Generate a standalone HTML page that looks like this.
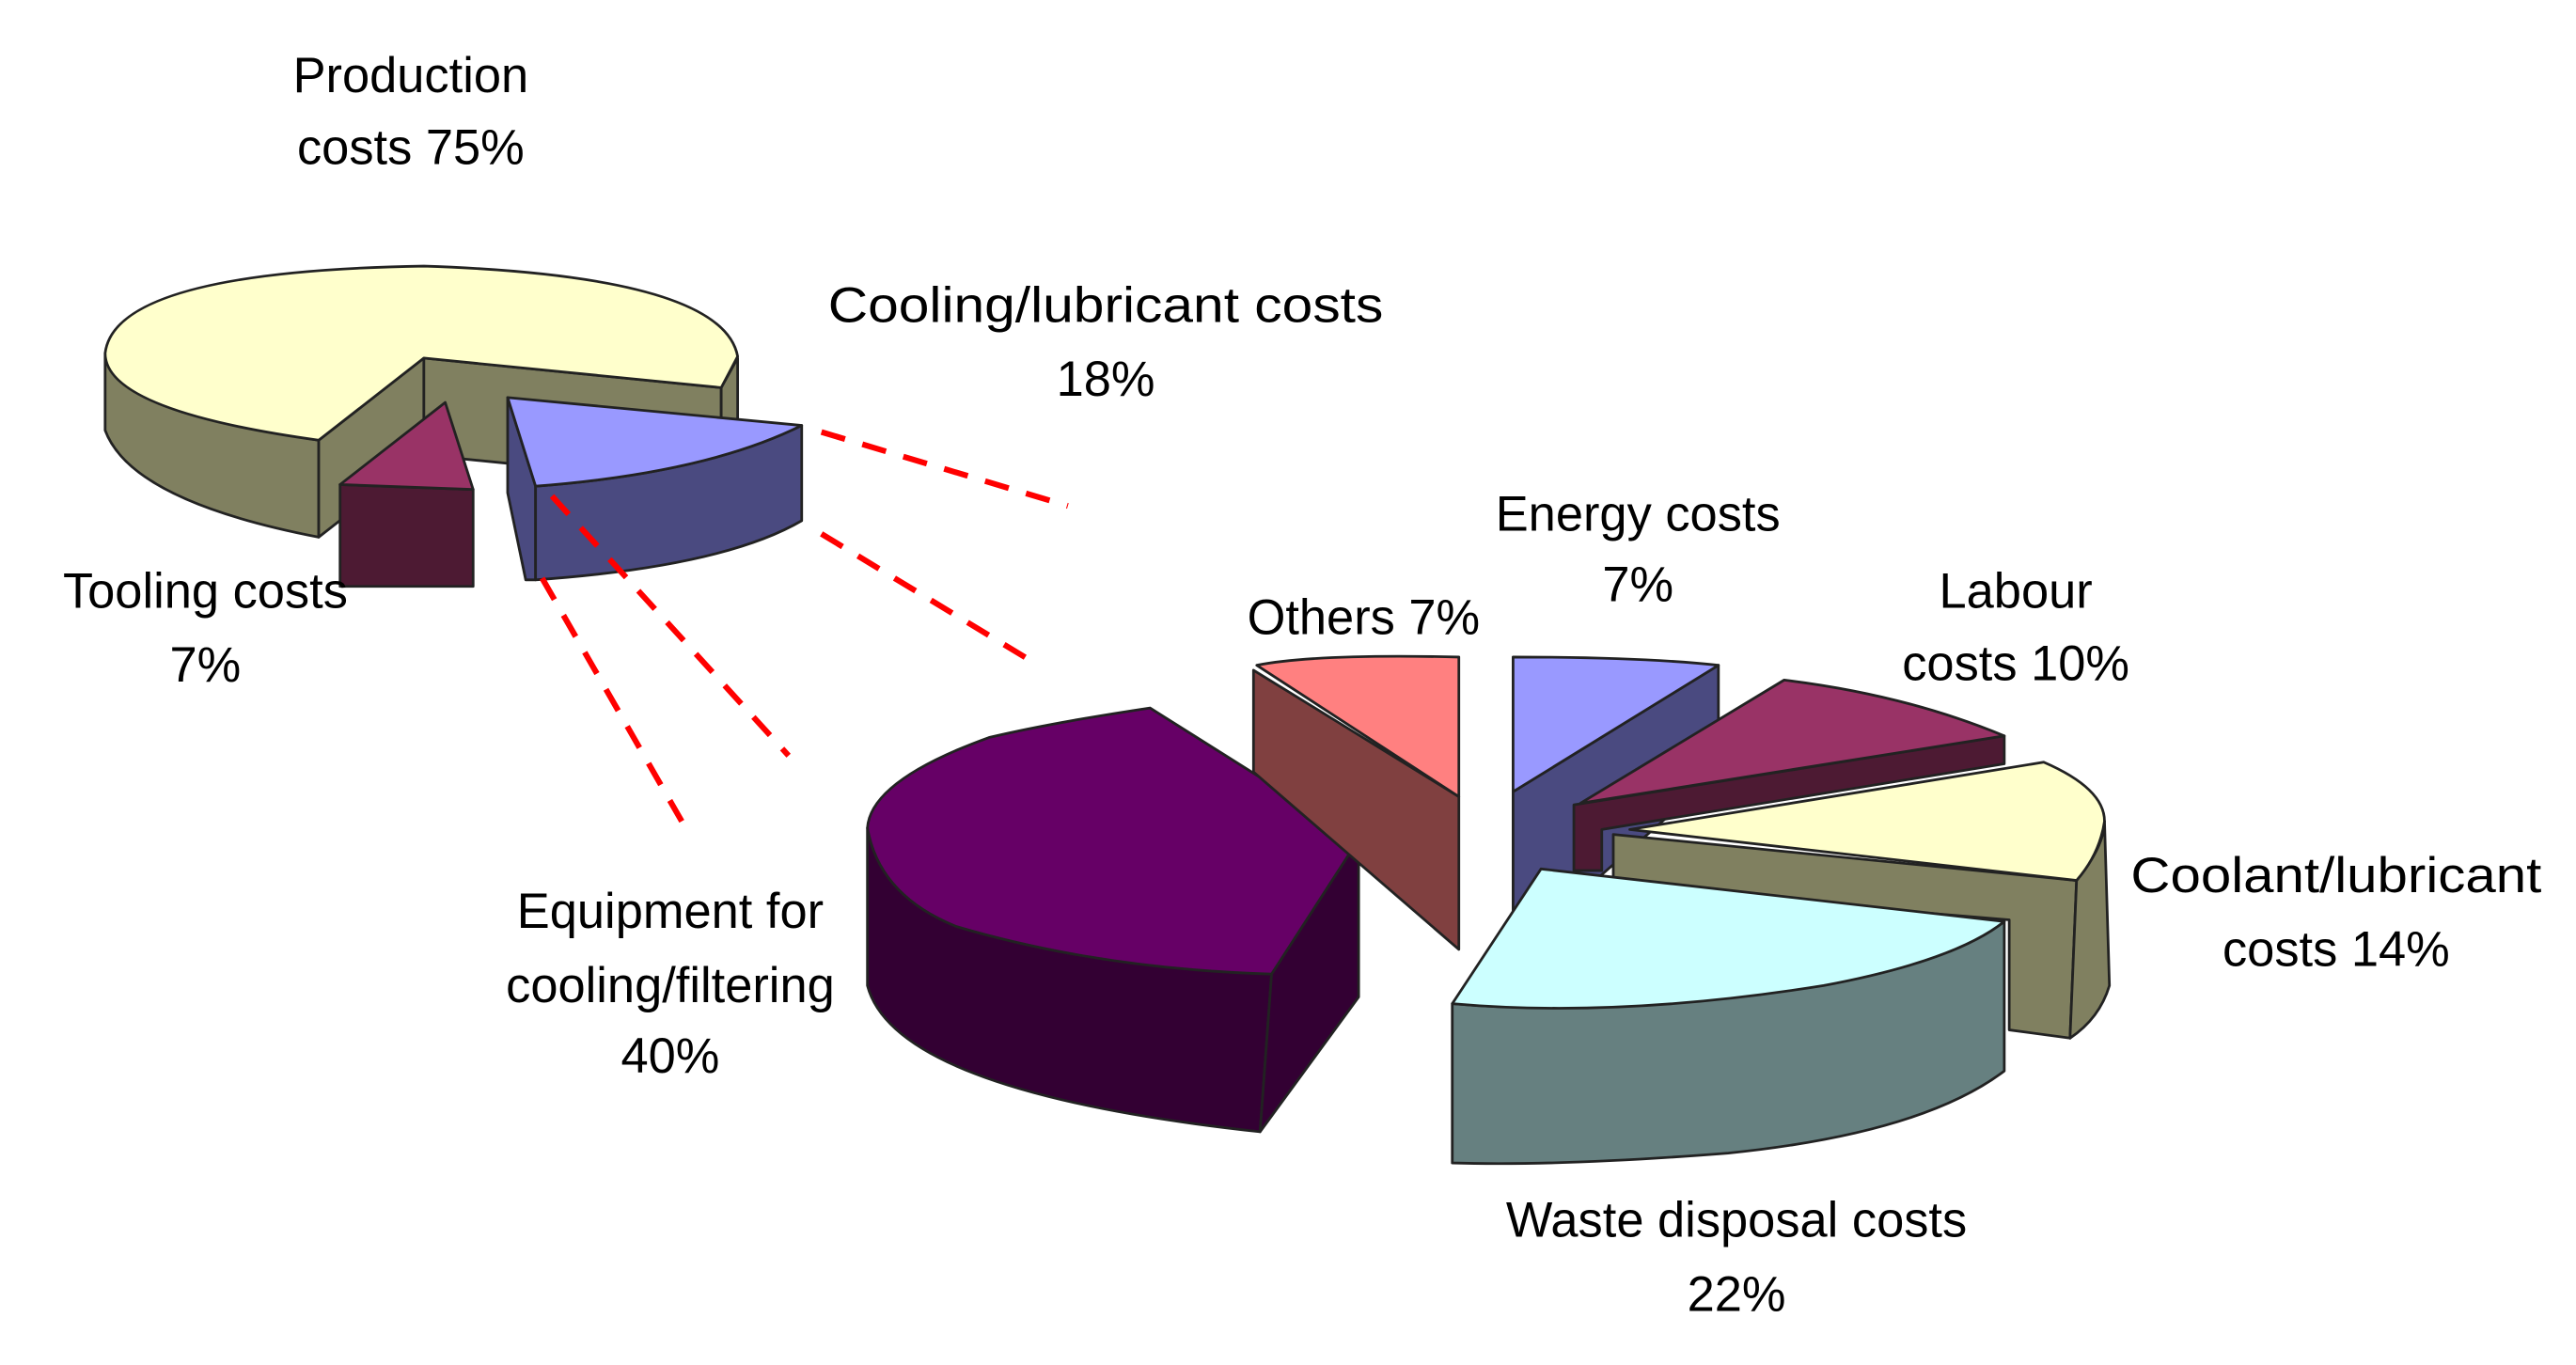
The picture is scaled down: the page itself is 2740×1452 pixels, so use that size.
<!DOCTYPE html>
<html><head><meta charset="utf-8"><style>html,body{margin:0;padding:0;background:#fff}svg{display:block}</style></head>
<body>
<svg width="2740" height="1452" viewBox="0 0 1568 831" preserveAspectRatio="none" xmlns="http://www.w3.org/2000/svg">
<rect width="1568" height="831" fill="#fff"/>
<g stroke="#222" stroke-width="1.6" stroke-linejoin="round">
<!-- Left pie -->
<path d="M64,215 L64,262 Q80,305 194,327 L194,268 Q80,250 64,215 Z" fill="#808060"/>
<path d="M194,268 L258,218 L258,277 L194,327 Z" fill="#808060"/>
<path d="M258,218 L439,236 L439,295 L258,277 Z" fill="#808060"/>
<path d="M439,236 L449,218 L449,260 L439,262 Z" fill="#808060"/>
<path d="M194,268 Q64,250 64,215 Q70,165 258,162 Q440,168 449,217 L439,236 L258,218 Z" fill="#ffffcc"/>
<!-- tooling -->
<path d="M207,295 L288,298 L288,357 L207,357 Z" fill="#4d1a33"/>
<path d="M271,245 L207,295 L288,298 Z" fill="#993366"/>
<!-- blue -->
<path d="M309,242 L326,296 L326,353 L320,353 L309,300 Z" fill="#4a4a80"/>
<path d="M326,296 Q430,288 488,259 L488,317 Q440,345 326,353 Z" fill="#4a4a80"/>
<path d="M309,242 L488,259 Q430,288 326,296 Z" fill="#9999ff"/>

<!-- Right pie -->
<path d="M528,504 L528,600 Q545,665 767,689 L774,593 Q560,585 528,504 Z" fill="#330033"/>
<path d="M774,593 L827,511 L827,607 L767,689 Z" fill="#330033"/>
<path d="M700,431 Q640,440 602,449 Q530,475 528,504 Q535,545 582,564 Q670,590 774,593 L827,511 Z" fill="#660066"/>
<!-- others -->
<path d="M763,408 L888,485 L888,578 L763,470 Z" fill="#804040"/>
<path d="M765,405 Q800,398 888,400 L888,485 Z" fill="#ff8080"/>
<!-- energy -->
<path d="M921,482 L1046,405 L1046,470 L921,580 Z" fill="#4a4a80"/>
<path d="M921,400 Q1000,400 1046,405 L921,482 Z" fill="#9999ff"/>
<!-- labour -->
<path d="M958,490 L1220,448 L1220,465 L975,505 L975,530 L958,530 Z" fill="#4d1a33"/>
<path d="M1086,414 Q1160,423 1220,448 L962,489 Z" fill="#993366"/>
<!-- coolant -->
<path d="M982,508 L1264,536 L1260,632 L1223,627 L1223,560 L982,540 Z" fill="#808060"/>
<path d="M1264,536 Q1281,515 1281,500 L1284,600 Q1278,620 1260,632 Z" fill="#808060"/>
<path d="M1244,464 Q1281,480 1281,500 Q1278,520 1264,536 L992,505 Z" fill="#ffffcc"/>
<!-- waste -->
<path d="M884,611 Q985,620 1110,595 Q1187,575 1220,561 L1220,652 Q1170,690 1052,702 Q950,710 884,708 Z" fill="#668080"/>
<path d="M938,529 L1220,561 Q1190,585 1110,600 Q985,620 884,611 Z" fill="#ccffff"/>
</g>
<g stroke="#ff0000" stroke-width="3.5" stroke-dasharray="15,11" fill="none">
<line x1="500" y1="263" x2="650" y2="308"/>
<line x1="500" y1="325" x2="632" y2="405"/>
<line x1="336" y1="302" x2="480" y2="460"/>
<line x1="330" y1="352" x2="415" y2="500"/>
</g>
<g font-family="'Liberation Sans', Arial, sans-serif" font-size="30" fill="#000" text-anchor="middle">
<text x="250" y="56">Production</text>
<text x="250" y="100">costs 75%</text>
<text x="673" y="196" textLength="338" lengthAdjust="spacingAndGlyphs">Cooling/lubricant costs</text>
<text x="673" y="241">18%</text>
<text x="125" y="370">Tooling costs</text>
<text x="125" y="415">7%</text>
<text x="997" y="323">Energy costs</text>
<text x="997" y="366">7%</text>
<text x="1227" y="370">Labour</text>
<text x="1227" y="414">costs 10%</text>
<text x="830" y="386">Others 7%</text>
<text x="1422" y="543" textLength="250" lengthAdjust="spacingAndGlyphs">Coolant/lubricant</text>
<text x="1422" y="588">costs 14%</text>
<text x="408" y="565">Equipment for</text>
<text x="408" y="610">cooling/filtering</text>
<text x="408" y="653">40%</text>
<text x="1057" y="753">Waste disposal costs</text>
<text x="1057" y="798">22%</text>
</g>
</svg>
</body></html>
